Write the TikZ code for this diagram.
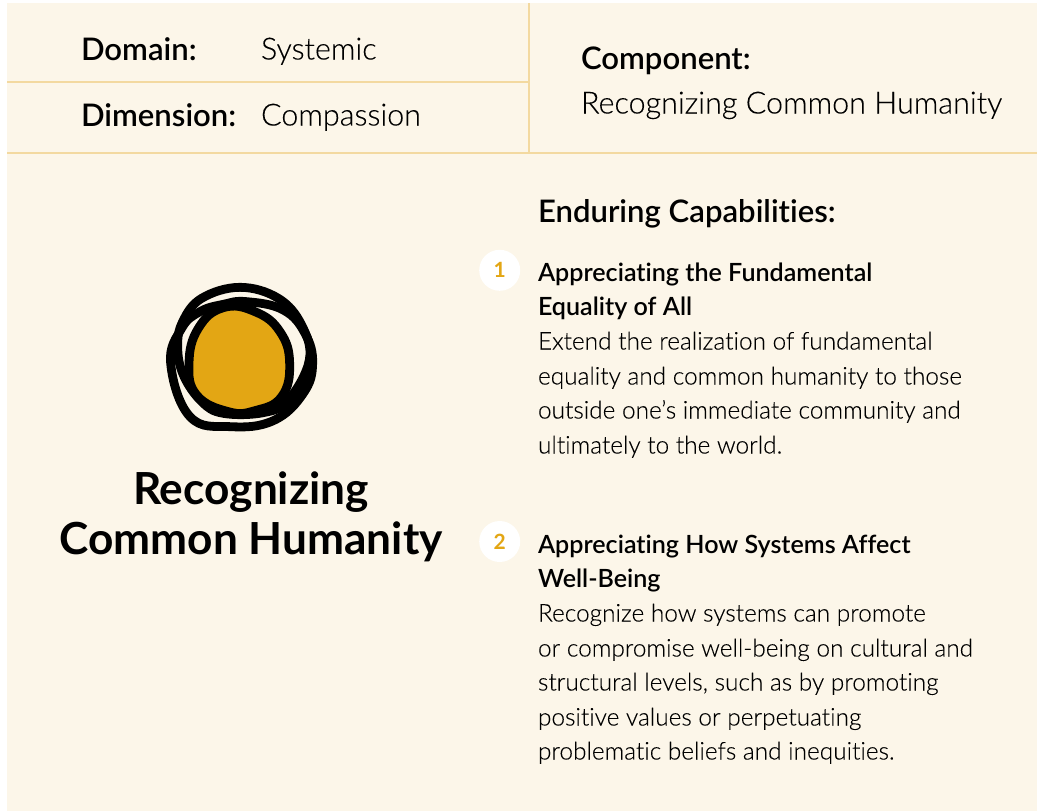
\documentclass[tikz,border=0pt]{standalone}
\usepackage{fontspec}
\setmainfont{Lato}[Ligatures=NoCommon]
\newfontfamily\lightf{Lato Light}[Ligatures=NoCommon,FakeBold=0.12]
\newfontfamily\semif{Lato Semibold}[Ligatures=NoCommon]
\definecolor{panelbg}{HTML}{FCF6E9}
\definecolor{rulecol}{HTML}{F3D9A0}
\definecolor{gold}{HTML}{E3A614}
\tikzset{
  txt/.style={anchor=base west,inner sep=0pt,outer sep=0pt,text=black},
  hdr/.style={txt,font=\semif\fontsize{31.1}{30}\selectfont},
  val/.style={txt,font=\lightf\fontsize{30.5}{30}\selectfont},
  head/.style={txt,font=\semif\fontsize{25.1}{24}\selectfont},
  body/.style={txt,font=\lightf\fontsize{24.4}{24}\selectfont},
  title/.style={anchor=base,inner sep=0pt,font=\fontsize{44.2}{44}\selectfont\bfseries},
  rulel/.style={rulecol,line width=1.3pt},
  badge/.style={circle,fill=white,minimum size=41pt,inner sep=0pt,text=gold,font=\fontsize{21}{21}\selectfont\bfseries},
  loopl/.style={black,line width=8.8pt}
}
\begin{document}
\begin{tikzpicture}[x=1pt,y=-1pt]
\useasboundingbox (0,0) rectangle (1037,811);
\fill[panelbg] (7,3) rectangle (1037,811);
\draw[rulel] (7,82) -- (529,82);
\draw[rulel] (7,153) -- (1037,153);
\draw[rulel] (529,3) -- (529,153);
\node[hdr] (domain) at (81,60.3) {Domain:};
\node[val] (systemic) at (261,59.5) {Systemic};
\node[hdr] (dimension) at (81,126.3) {Dimension:};
\node[val] (compassion) at (261,125.5) {Compassion};
\node[hdr] (component) at (581,69.3) {Component:};
\node[val] (compval) at (581,113.5) {Recognizing Common Humanity};
\begin{scope}[shift={(140,260)},x=0.3333pt,y=-0.3333pt]
\draw[loopl] plot[smooth cycle,tension=0.65] coordinates {(300,82)(415,115)(485,195)(508,300)(445,420)(370,458)(250,460)(185,425)(130,345)(113,260)(128,185)(185,115)};
\draw[loopl] plot[smooth cycle,tension=0.7] coordinates {(320,125)(430,150)(495,220)(518,310)(490,400)(400,482)(270,500)(150,470)(92,310)(125,205)(180,155)(250,133)};
\draw[loopl,fill=gold] plot[smooth cycle,tension=0.75] coordinates {(250,143)(345,155)(420,215)(449,310)(425,410)(345,452)(265,455)(170,405)(147,310)(175,205)};
\end{scope}
\node[title] (t1) at (251,504.5) {Recognizing};
\node[title] (t2) at (251,554.5) {Common Humanity};
\node[hdr] (ec) at (538,222.3) {Enduring Capabilities:};
\node[badge] (b1) at (499.7,270.3) {1};
\node[badge] (b2) at (499.7,541.5) {2};
\node[head] (a1) at (538,281.3) {Appreciating the Fundamental};
\node[head] (a2) at (538,315.3) {Equality of All};
\node[body] (a3) at (538,349.5) {Extend the realization of fundamental};
\node[body] (a4) at (538,384.5) {equality and common humanity to those};
\node[body] (a5) at (538,418.5) {outside one’s immediate community and};
\node[body] (a6) at (538,453.5) {ultimately to the world.};
\node[head] (c1) at (538,553.3) {Appreciating How Systems Affect};
\node[head] (c2) at (538,587.3) {Well-Being};
\node[body] (c3) at (538,621.5) {Recognize how systems can promote};
\node[body] (c4) at (538,656.5) {or compromise well-being on cultural and};
\node[body] (c5) at (538,690.5) {structural levels, such as by promoting};
\node[body] (c6) at (538,725.5) {positive values or perpetuating};
\node[body] (c7) at (538,759.5) {problematic beliefs and inequities.};
\end{tikzpicture}
\end{document}
